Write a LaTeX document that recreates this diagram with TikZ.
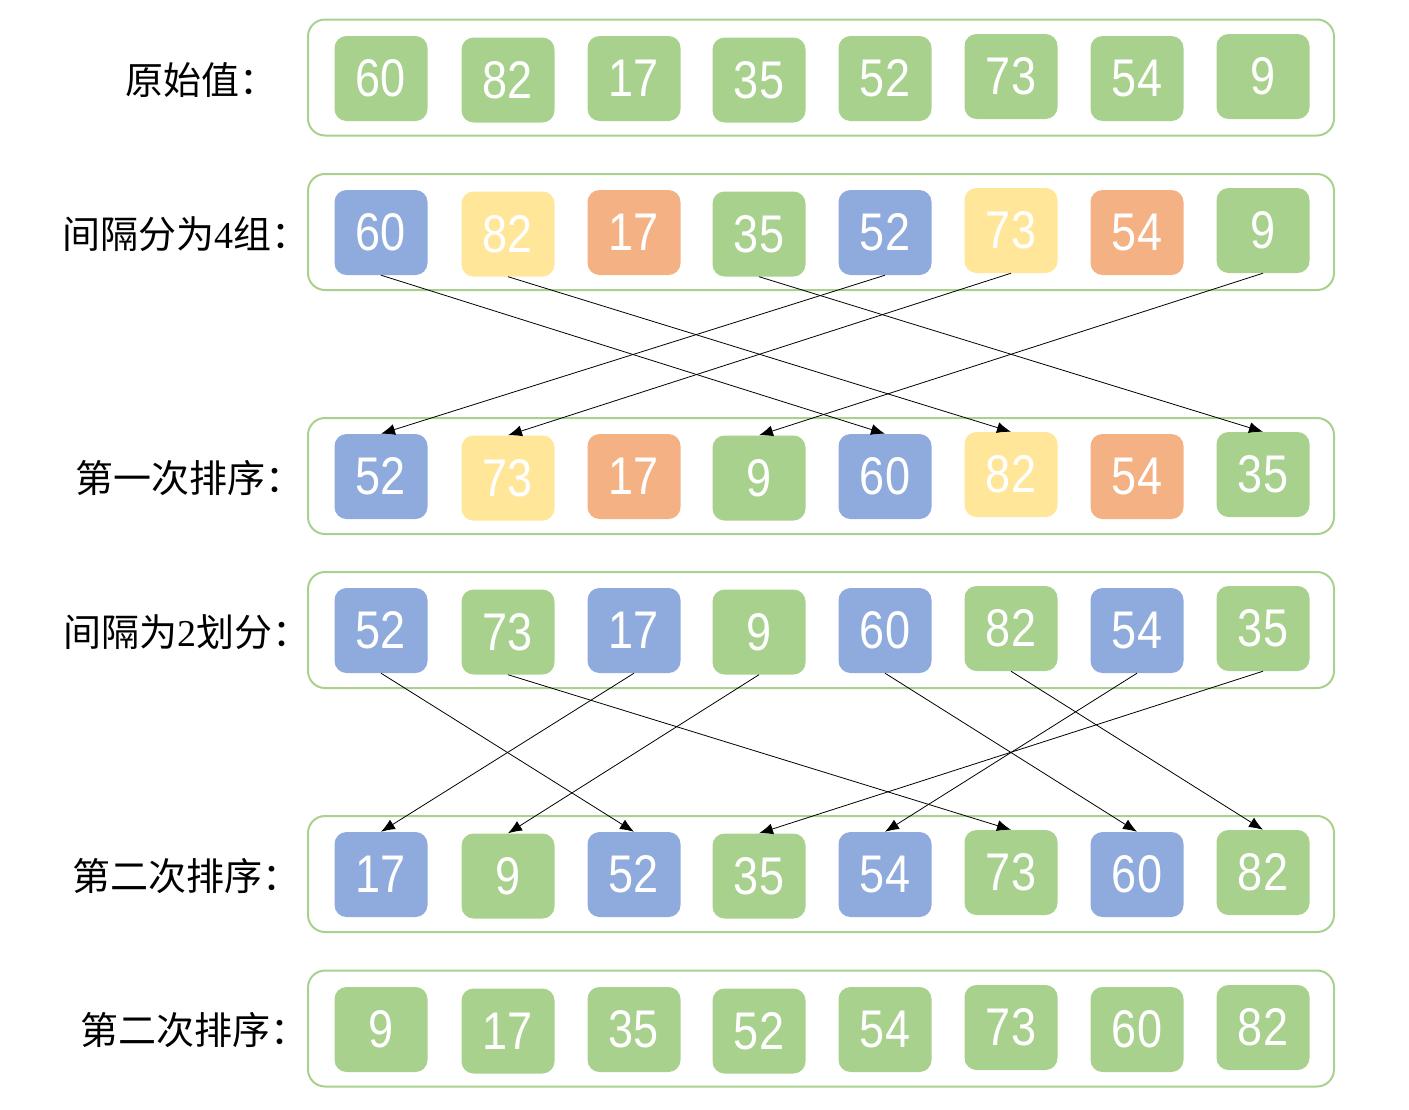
\documentclass[tikz,border=0pt]{standalone}
\usepackage{fontspec}
\usetikzlibrary{arrows.meta}
\newfontfamily\cjk{Noto Sans CJK SC}
\newfontfamily\numfont[FakeStretch=0.85]{Liberation Sans}
\newfontfamily\serifnum{Liberation Serif}
\definecolor{gr}{HTML}{A9D18E}
\definecolor{bl}{HTML}{8FAADC}
\definecolor{ye}{HTML}{FFE699}
\definecolor{or}{HTML}{F4B183}
\tikzset{
  outer/.style={draw=gr, line width=2pt, rounded corners=17pt},
  cell/.style={minimum width=93pt, minimum height=85pt, rounded corners=12pt, text=white, inner sep=0pt,
    font=\numfont\fontsize{53}{58}\selectfont},
  lab/.style={anchor=west, inner sep=0pt, font=\cjk\fontsize{38}{44}\selectfont},
  arr/.style={draw=black, line width=0.8pt, -{Latex[length=14pt,width=11pt]}}
}
\begin{document}
\begin{tikzpicture}[x=1pt,y=-1pt]
\useasboundingbox (0,0) rectangle (1409,1109);
% outer frames
\foreach \r/\y in {1/77.5,2/232,3/476,4/630,5/874,6/1028.5}{
  \draw[outer] (308,\y-58) rectangle (1334,\y+58);
}
% labels
\node[lab] (l1) at (125,80) {原始值：};
\node[lab] (l2) at (62,234) {间隔分为{\serifnum 4}组：};
\node[lab] (l3) at (75,478) {第一次排序：};
\node[lab] (l4) at (63,632) {间隔为{\serifnum 2}划分：};
\node[lab] (l5) at (72,876) {第二次排序：};
\node[lab] (l6) at (80,1030) {第二次排序：};
% cells
\foreach \r/\y/\data in {
  1/78.5/{60/gr,82/gr,17/gr,35/gr,52/gr,73/gr,54/gr,9/gr},
  2/232.5/{60/bl,82/ye,17/or,35/gr,52/bl,73/ye,54/or,9/gr},
  3/476.5/{52/bl,73/ye,17/or,9/gr,60/bl,82/ye,54/or,35/gr},
  4/630.5/{52/bl,73/gr,17/bl,9/gr,60/bl,82/gr,54/bl,35/gr},
  5/874.5/{17/bl,9/gr,52/bl,35/gr,54/bl,73/gr,60/bl,82/gr},
  6/1029.5/{9/gr,17/gr,35/gr,52/gr,54/gr,73/gr,60/gr,82/gr}}{
  \foreach \v/\c [count=\i] in \data {
    \pgfmathsetmacro{\xx}{{381,508,634,759,885,1011,1137,1263}[\i-1]}
    \pgfmathsetmacro{\dy}{{0,1.5,0,1.5,0,-2,0,-2}[\i-1]}
    \node[cell, fill=\c] (r\r c\i) at (\xx,\y+\dy) {\v};
  }
}
% first pass arrows (gap 4)
\draw[arr] (r2c1.south) -- (r3c5.north);
\draw[arr] (r2c2.south) -- (r3c6.north);
\draw[arr] (r2c4.south) -- (r3c8.north);
\draw[arr] (r2c5.south) -- (r3c1.north);
\draw[arr] (r2c6.south) -- (r3c2.north);
\draw[arr] (r2c8.south) -- (r3c4.north);
% second pass arrows (gap 2)
\draw[arr] (r4c1.south) -- (r5c3.north);
\draw[arr] (r4c2.south) -- (r5c6.north);
\draw[arr] (r4c3.south) -- (r5c1.north);
\draw[arr] (r4c4.south) -- (r5c2.north);
\draw[arr] (r4c5.south) -- (r5c7.north);
\draw[arr] (r4c6.south) -- (r5c8.north);
\draw[arr] (r4c7.south) -- (r5c5.north);
\draw[arr] (r4c8.south) -- (r5c4.north);
\end{tikzpicture}
\end{document}
